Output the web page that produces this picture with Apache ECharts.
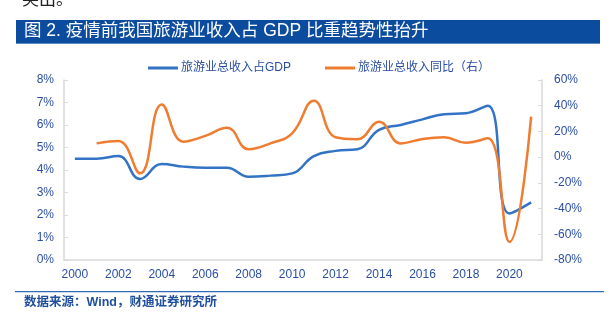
<!DOCTYPE html>
<html>
<head>
<meta charset="utf-8">
<script src="https://cdn.jsdelivr.net/npm/echarts@6/dist/echarts.min.js"></script>
<style>
  html, body { margin: 0; padding: 0; background: #fff; }
  #chart { width: 611px; height: 324px; }
</style>
</head>
<body>
<div id="chart"></div>
<script>
// Tourism revenue share of GDP (left axis) and its YoY growth (right axis)
const years = ['2000','2001','2002','2003','2004','2005','2006','2007','2008','2009','2010',
               '2011','2012','2013','2014','2015','2016','2017','2018','2019','2020','2021'];
const shareOfGdp = [4.5, 4.5, 4.62, 3.6, 4.27, 4.15, 4.1, 4.1, 3.7, 3.75, 3.85,
                    4.62, 4.85, 4.92, 5.78, 6.0, 6.25, 6.48, 6.52, 6.86, 2.07, 2.56];
const yoyGrowth = [null, 10.7, 12.5, -12.6, 41.0, 12.0, 16.5, 22.9, 6.1, 10.7, 18.5,
                   43.9, 15.5, 14.0, 27.5, 10.7, 14.1, 15.4, 11.2, 14.6, -66.0, 31.5];
const leftTicks = { min: 0, max: 8, interval: 1 };
const rightTicks = { min: -80, max: 60, interval: 20 };

const FONT = '"Liberation Sans", Arial, "Noto Sans CJK SC", sans-serif';
const LABEL = '#2b4ea2';
const AXIS = '#d9d9d9';

const chart = echarts.init(document.getElementById('chart'), null, { renderer: 'canvas' });
chart.setOption({
  animation: false,
  backgroundColor: '#fff',
  textStyle: { fontFamily: FONT },
  graphic: [
    { type: 'text', left: 22, top: -10,
      style: { text: '突出。', fill: '#222', font: '17px "Noto Sans CJK SC"' } },
    { type: 'rect', shape: { x: 16, y: 20, width: 584, height: 24 },
      style: { fill: '#0b4c9e' } },
    { type: 'rect', shape: { x: 16, y: 43, width: 584, height: 1 },
      style: { fill: '#5b8ac8' } },
    { type: 'text', x: 24, y: 22.5,
      style: { text: '图 2. 疫情前我国旅游业收入占 GDP 比重趋势性抬升', fill: '#fff',
               font: '17.5px "Liberation Sans", "Noto Sans CJK SC"' } },
    { type: 'rect', shape: { x: 15, y: 291, width: 589, height: 1.2 },
      style: { fill: '#2e6db4' } },
    { type: 'text', x: 24, y: 296,
      style: { text: '数据来源：Wind，财通证券研究所', fill: '#1f4f9e',
               font: 'bold 12.5px "Liberation Sans", "Noto Sans CJK SC"' } }
  ],
  legend: {
    top: 57, left: 143, itemGap: 34, itemWidth: 30, itemHeight: 3,
    icon: 'rect',
    textStyle: { color: LABEL, fontSize: 12, fontFamily: FONT, padding: [0, 0, 0, -2] },
    data: ['旅游业总收入占GDP', '旅游业总收入同比（右）']
  },
  grid: { left: 64, right: 69, top: 80, bottom: 64, containLabel: false },
  xAxis: {
    type: 'category', data: years, boundaryGap: true,
    axisLine: { lineStyle: { color: AXIS, width: 1.5 } },
    axisTick: { show: false },
    axisLabel: { color: LABEL, fontSize: 12, interval: 1, margin: 9 }
  },
  yAxis: [
    { type: 'value', min: leftTicks.min, max: leftTicks.max, interval: leftTicks.interval,
      splitLine: { show: false },
      axisLine: { show: true, lineStyle: { color: AXIS, width: 1.5 } },
      axisTick: { show: true, inside: true, length: 4, lineStyle: { color: AXIS } },
      axisLabel: { color: LABEL, fontSize: 12, margin: 10, formatter: v => v + '%' } },
    { type: 'value', min: rightTicks.min, max: rightTicks.max, interval: rightTicks.interval,
      splitLine: { show: false },
      axisLine: { show: true, lineStyle: { color: AXIS, width: 1.5 } },
      axisTick: { show: true, inside: true, length: 4, lineStyle: { color: AXIS } },
      axisLabel: { color: LABEL, fontSize: 12, margin: 12, formatter: v => v + '%' } }
  ],
  series: [
    { name: '旅游业总收入占GDP', type: 'line', yAxisIndex: 0, data: shareOfGdp,
      smooth: 0.45, showSymbol: false, lineStyle: { color: '#3273c6', width: 2.5 },
      itemStyle: { color: '#3273c6' } },
    { name: '旅游业总收入同比（右）', type: 'line', yAxisIndex: 1, data: yoyGrowth,
      smooth: 0.45, showSymbol: false, connectNulls: false,
      lineStyle: { color: '#ee7d31', width: 2.5 }, itemStyle: { color: '#ee7d31' } }
  ]
});
</script>
</body>
</html>
